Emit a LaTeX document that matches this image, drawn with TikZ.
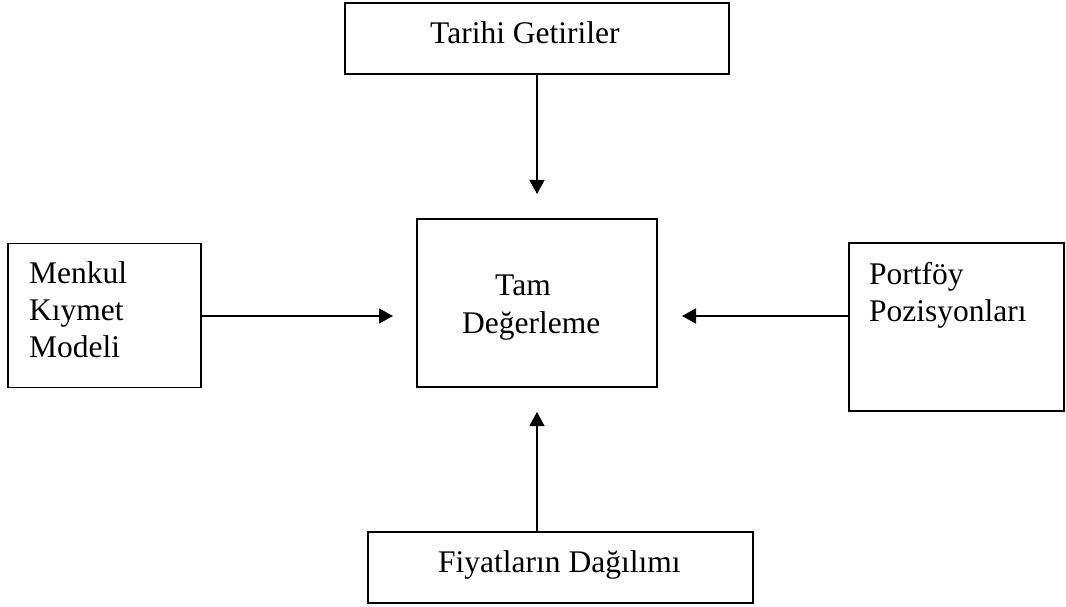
\documentclass[tikz,border=0pt]{standalone}
\usepackage{fontspec}
\setmainfont{Liberation Serif}
\usetikzlibrary{arrows.meta}
\begin{document}
\begin{tikzpicture}[x=1pt,y=-1pt,
  box/.style={draw=black,line width=1.4pt,rectangle,inner sep=0pt},
  txt/.style={inner sep=0pt,anchor=base west,font=\fontsize{31.5}{37}\selectfont},
  flow/.style={line width=1.4pt,-{Triangle[width=15pt,length=14pt]}}]
  \useasboundingbox (0,0) rectangle (1066,607);

  % boxes
  \node[box,minimum width=384pt,minimum height=71pt]  (hist)  at (537,38.5)  {};
  \node[box,minimum width=240pt,minimum height=168pt] (full)  at (537,303)   {};
  \node[box,minimum width=193pt,minimum height=144pt] (model) at (104.5,315.5) {};
  \node[box,minimum width=215pt,minimum height=168pt] (port)  at (956.5,327) {};
  \node[box,minimum width=385pt,minimum height=71pt]  (dist)  at (560.5,567.5) {};

  % labels
  \node[txt] (thist) at (430,44) {Tarihi Getiriler};
  \node[txt] (tfull1) at (495,295) {Tam};
  \node[txt] (tfull2) at (462,333) {Değerleme};
  \node[txt] (tmod1) at (29,283) {Menkul};
  \node[txt] (tmod2) at (29,320) {Kıymet};
  \node[txt] (tmod3) at (29,357) {Modeli};
  \node[txt] (tport1) at (869,284) {Portföy};
  \node[txt] (tport2) at (869,321) {Pozisyonları};
  \node[txt] (tdist) at (438,572) {Fiyatların Dağılımı};

  % arrow tips stop short of the central box
  \coordinate (tipT) at (537,194);
  \coordinate (tipL) at (393,316);
  \coordinate (tipR) at (682,316);
  \coordinate (tipB) at (537,412);

  \draw[flow] (hist.south) -- (tipT);
  \draw[flow] (model.east |- tipL) -- (tipL);
  \draw[flow] (port.west |- tipR) -- (tipR);
  \draw[flow] (tipB |- dist.north) -- (tipB);
\end{tikzpicture}
\end{document}
